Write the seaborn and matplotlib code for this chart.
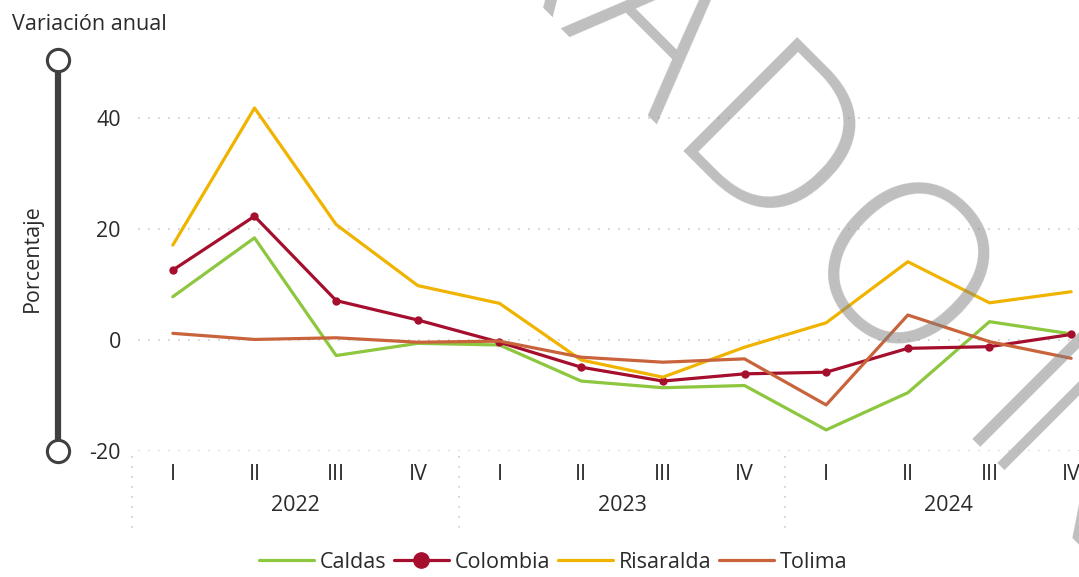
import matplotlib
matplotlib.use("Agg")
import matplotlib.pyplot as plt
import seaborn as sns
import pandas as pd
from matplotlib.lines import Line2D

# datos (variacion anual, %)
trimestres = ["I", "II", "III", "IV"] * 3
anios = ["2022", "2023", "2024"]
caldas = [7.8, 18.4, -2.8, -0.6, -0.9, -7.4, -8.6, -8.2, -16.2, -9.5, 3.3, 1.1]
colombia = [12.6, 22.3, 7.1, 3.6, -0.4, -4.9, -7.4, -6.1, -5.8, -1.5, -1.2, 1.0]
risaralda = [17.1, 41.8, 20.8, 9.8, 6.6, -3.6, -6.7, -1.3, 3.1, 14.1, 6.7, 8.7]
tolima = [1.2, 0.1, 0.4, -0.4, -0.2, -3.1, -4.0, -3.4, -11.7, 4.5, -0.3, -3.3]

series = {"Caldas": caldas, "Colombia": colombia, "Risaralda": risaralda, "Tolima": tolima}
colores = {"Caldas": "#8dc63f", "Colombia": "#a50f2d", "Risaralda": "#efb300", "Tolima": "#c9633b"}

rows = []
for nombre, vals in series.items():
    for i, v in enumerate(vals):
        rows.append({"pos": i, "serie": nombre, "valor": v})
df = pd.DataFrame(rows)

sns.set_theme(style="white")
plt.rcParams["font.family"] = ["Open Sans", "DejaVu Sans"]
txt = "#2b2b2b"
fs = 15.5

W, H = 1079, 577
fig = plt.figure(figsize=(W / 100, H / 100), dpi=100)
ax = fig.add_axes([132 / W, 126 / H, 980 / W, 388.5 / H])


def fx(x):
    return x / W


def fy(y):
    return 1 - y / H


for nombre in series:
    sub = df[df["serie"] == nombre]
    sns.lineplot(data=sub, x="pos", y="valor", ax=ax, color=colores[nombre],
                 linewidth=2.3, marker="o" if nombre == "Colombia" else None,
                 markersize=6, markeredgewidth=0, label=nombre, legend=False)

ax.set_xlim(-0.5, 11.5)
ax.set_ylim(-20, 50)
ax.set_yticks([-20, 0, 20, 40])
ax.set_yticklabels(["-20", "0", "20", "40"])
ax.set_xticks(range(12))
ax.set_xticklabels(trimestres)
ax.tick_params(axis="both", length=0, labelsize=fs, labelcolor=txt)
ax.tick_params(axis="y", pad=8)
ax.tick_params(axis="x", pad=9)
ax.set_xlabel("")
ax.set_ylabel("")
for s in ax.spines.values():
    s.set_visible(False)
for yv in [-20, 0, 20, 40]:
    ax.axhline(yv, color="#cccccc", linewidth=1.2, linestyle=(0, (1, 5)), zorder=0, xmin=0.006)

# grupos de anios
xt = ax.get_xaxis_transform()
for k, anio in enumerate(anios):
    ax.text(4 * k + 1.5, -0.14, anio, transform=xt, ha="center", va="center",
            fontsize=fs, color=txt)
for xb in [-0.5, 3.5, 7.5]:
    ax.plot([xb, xb], [-0.012, -0.2], transform=xt, color="#cccccc",
            linewidth=1.2, linestyle=(0, (1, 5)), clip_on=False)

# leyenda
handles = [Line2D([], [], color=colores[n], linewidth=2.3,
                  marker="o" if n == "Colombia" else None, markersize=11)
           for n in series]
fig.legend(handles, list(series.keys()), loc="center", bbox_to_anchor=(fx(553), fy(562)),
           ncol=4, frameon=False, fontsize=fs, handlelength=2.55, handletextpad=0.28,
           columnspacing=0.35, labelcolor=txt)

# barra lateral
fig.add_artist(Line2D([fx(58), fx(58)], [fy(70), fy(441)], color="#404040", linewidth=4.5))
fig.add_artist(Line2D([fx(58), fx(58)], [fy(60), fy(451)], linestyle="none", marker="o",
                      markersize=16, markerfacecolor="white", markeredgecolor="#404040",
                      markeredgewidth=2.2))
fig.text(fx(12), fy(24), "Variación anual", ha="left", va="center", fontsize=fs, color=txt)
fig.text(fx(32), fy(258), "Porcentaje", ha="center", va="center", rotation=90,
         fontsize=fs, color=txt)

# marca de agua (letras giradas 45 grados)
letras = ["R", "A", "D", "O", "I", "N"]
centros = [(557, -85), (665, 2), (772, 133), (903, 256), (1025, 385), (1087, 446)]
for letra, (cx, cy) in zip(letras, centros):
    fig.text(fx(cx - 15), fy(cy + 32), letra, ha="center", va="center", rotation=-45,
             rotation_mode="anchor", fontsize=163, fontweight="light",
             color="#808080", alpha=0.5, zorder=10)

fig.savefig("out.png", dpi=100)
